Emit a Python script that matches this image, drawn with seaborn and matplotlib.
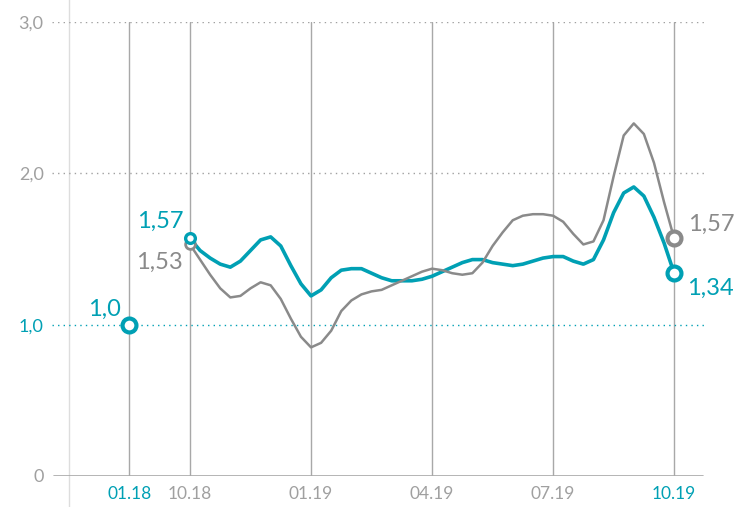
import matplotlib
matplotlib.use("Agg")
import matplotlib.pyplot as plt
import pandas as pd
import seaborn as sns

# months counted from 10.18 (0) to 10.19 (12), read every quarter month
months = [i / 4 for i in range(49)]
teal_vals = [1.57, 1.49, 1.44, 1.40, 1.38, 1.42, 1.49, 1.56, 1.58, 1.52, 1.39, 1.27,
             1.19, 1.23, 1.31, 1.36, 1.37, 1.37, 1.34, 1.31, 1.29, 1.29, 1.29, 1.30,
             1.32, 1.35, 1.38, 1.41, 1.43, 1.43, 1.41, 1.40, 1.39, 1.40, 1.42, 1.44,
             1.45, 1.45, 1.42, 1.40, 1.43, 1.56, 1.74, 1.87, 1.91, 1.85, 1.71, 1.54,
             1.34]
gray_vals = [1.53, 1.43, 1.33, 1.24, 1.18, 1.19, 1.24, 1.28, 1.26, 1.17, 1.04, 0.92,
             0.85, 0.88, 0.96, 1.09, 1.16, 1.20, 1.22, 1.23, 1.26, 1.29, 1.32, 1.35,
             1.37, 1.36, 1.34, 1.33, 1.34, 1.41, 1.52, 1.61, 1.69, 1.72, 1.73, 1.73,
             1.72, 1.68, 1.60, 1.53, 1.55, 1.69, 1.98, 2.25, 2.33, 2.26, 2.07, 1.81,
             1.57]

# single starting point at 01.18
start_month = -1.5
start_val = 1.0

tick_pos = [-1.5, 0, 3, 6, 9, 12]
tick_labels = ["01.18", "10.18", "01.19", "04.19", "07.19", "10.19"]

TEAL = "#00a0b4"
GRAY = "#8a8a8a"
LIGHT = "#a0a0a0"

df = pd.DataFrame({
    "month": months * 2,
    "value": teal_vals + gray_vals,
    "series": ["teal"] * len(months) + ["gray"] * len(months),
})

sns.set_style("white")
plt.rcParams["font.family"] = ["Lato", "DejaVu Sans"]

fig = plt.figure(figsize=(7.36, 5.07), dpi=100)
ax = fig.add_axes([52 / 736, 1 - 476 / 507, (706 - 52) / 736, (476 - 22) / 507])
ax.set_xlim(-3.42, 12.79)
ax.set_ylim(0, 3.0)
for s in ax.spines.values():
    s.set_visible(False)

# grid
for t in tick_pos:
    ax.axvline(t, color="#a8a8a8", lw=1, zorder=1)
ax.axvline(-3, ymin=-0.07, ymax=1.06, color="#dddddd", lw=1, clip_on=False, zorder=1)
ax.axhline(2.0, color=LIGHT, lw=1, ls=(0, (1, 3)), zorder=1)
ax.axhline(3.0, color=LIGHT, lw=1, ls=(0, (1, 3)), zorder=1)
ax.axhline(1.0, color=TEAL, lw=1, ls=(0, (1, 3)), zorder=1)
ax.axhline(0, xmin=0.003, xmax=0.995, color="#a8a8a8", lw=1.2, zorder=1)

sns.lineplot(data=df, x="month", y="value", hue="series", sort=False, estimator=None,
             palette={"teal": TEAL, "gray": GRAY}, size="series",
             sizes={"teal": 2.6, "gray": 1.8}, legend=False, ax=ax, zorder=3)
for ln in ax.get_lines()[-2:]:
    ln.set_solid_joinstyle("round")
    ln.set_solid_capstyle("round")

# markers
ax.plot(months[0], gray_vals[0], "o", ms=7, mfc="white", mec=GRAY, mew=2, zorder=4)
ax.plot(months[0], teal_vals[0], "o", ms=7, mfc="white", mec=TEAL, mew=2.4, zorder=5)
ax.plot(start_month, start_val, "o", ms=10, mfc="white", mec=TEAL, mew=3, zorder=5)
ax.plot(months[-1], gray_vals[-1], "o", ms=10, mfc="white", mec=GRAY, mew=3, zorder=4)
ax.plot(months[-1], teal_vals[-1], "o", ms=10, mfc="white", mec=TEAL, mew=3, zorder=5)

def fmt(v, d=2):
    return f"{v:.{d}f}".replace(".", ",")

lab = dict(fontsize=17, ha="right", va="center")
ax.annotate(fmt(start_val, 1), (start_month, start_val), xytext=(-6, 11),
            textcoords="offset points", color=TEAL, **lab)
ax.annotate(fmt(teal_vals[0]), (months[0], teal_vals[0]), xytext=(-5, 12),
            textcoords="offset points", color=TEAL, **lab)
ax.annotate(fmt(gray_vals[0]), (months[0], gray_vals[0]), xytext=(-5, -13),
            textcoords="offset points", color=GRAY, **lab)
lab["ha"] = "left"
ax.annotate(fmt(gray_vals[-1]), (months[-1], gray_vals[-1]), xytext=(10, 10),
            textcoords="offset points", color=GRAY, **lab)
ax.annotate(fmt(teal_vals[-1]), (months[-1], teal_vals[-1]), xytext=(9, -11),
            textcoords="offset points", color=TEAL, **lab)

# ticks
ax.set_xticks(tick_pos)
ax.set_xticklabels(tick_labels)
ax.set_yticks([0, 1, 2, 3])
ax.set_yticklabels(["0", "1,0", "2,0", "3,0"])
ax.tick_params(axis="both", length=0, labelsize=13, colors=LIGHT)
ax.tick_params(axis="x", pad=7, labelsize=12.5)
ax.tick_params(axis="y", pad=6)
for i, t in enumerate(ax.get_xticklabels()):
    t.set_color(TEAL if i in (0, len(tick_labels) - 1) else LIGHT)
ax.get_yticklabels()[1].set_color(TEAL)
ax.set_xlabel("")
ax.set_ylabel("")

fig.savefig("out.png", dpi=100)
